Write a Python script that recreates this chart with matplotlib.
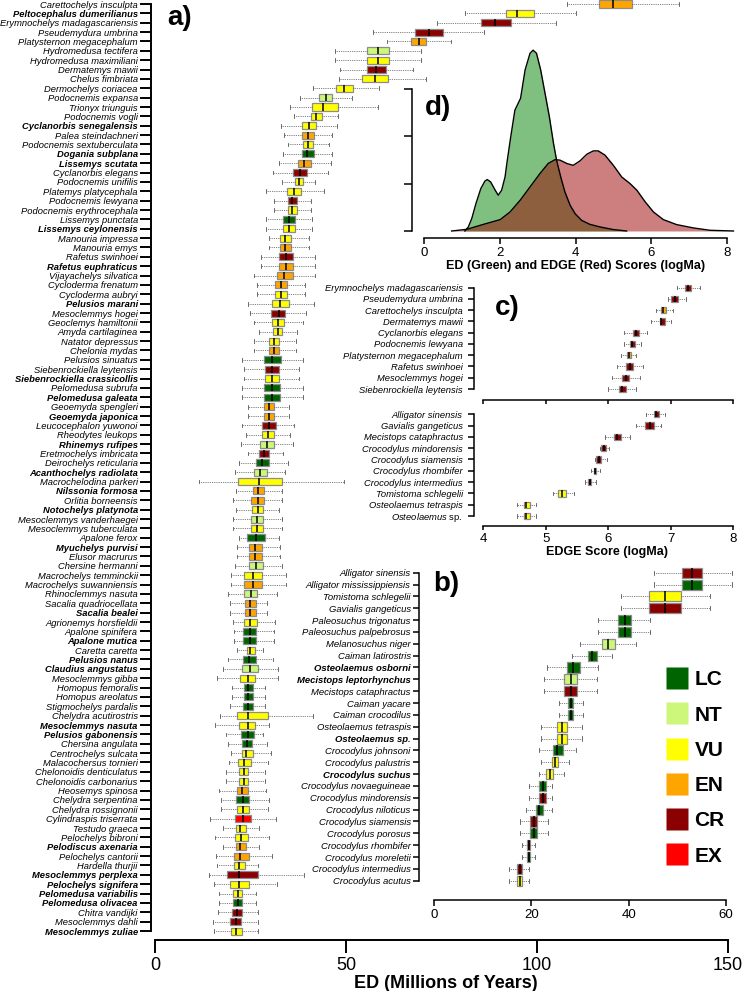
import numpy as np
import matplotlib.pyplot as plt
from matplotlib.lines import Line2D

plt.rcParams['font.family'] = ['Liberation Sans', 'DejaVu Sans']
plt.rcParams['mathtext.fontset'] = 'custom'
plt.rcParams['mathtext.it'] = 'Liberation Sans:italic'
plt.rcParams['mathtext.rm'] = 'Liberation Sans'
plt.rcParams['mathtext.bf'] = 'Liberation Sans:bold'

W, H = 742, 991

iucn_col = {'LC': '#006400', 'NT': '#CCF77A', 'VU': '#FFFF00',
            'EN': '#FFA500', 'CR': '#8B0000', 'EX': '#FF0000'}
legend_cats = ['LC', 'NT', 'VU', 'EN', 'CR', 'EX']

# ---------------- panel a: top 100 turtles, ED (Ma) ----------------
names_a = [
    "Carettochelys insculpta", "Peltocephalus dumerilianus", "Erymnochelys madagascariensis",
    "Pseudemydura umbrina", "Platysternon megacephalum", "Hydromedusa tectifera",
    "Hydromedusa maximiliani", "Dermatemys mawii", "Chelus fimbriata", "Dermochelys coriacea",
    "Podocnemis expansa", "Trionyx triunguis", "Podocnemis vogli", "Cyclanorbis senegalensis",
    "Palea steindachneri", "Podocnemis sextuberculata", "Dogania subplana", "Lissemys scutata",
    "Cyclanorbis elegans", "Podocnemis unifilis", "Platemys platycephala", "Podocnemis lewyana",
    "Podocnemis erythrocephala", "Lissemys punctata", "Lissemys ceylonensis", "Manouria impressa",
    "Manouria emys", "Rafetus swinhoei", "Rafetus euphraticus", "Vijayachelys silvatica",
    "Cycloderma frenatum", "Cycloderma aubryi", "Pelusios marani", "Mesoclemmys hogei",
    "Geoclemys hamiltonii", "Amyda cartilaginea", "Natator depressus", "Chelonia mydas",
    "Pelusios sinuatus", "Siebenrockiella leytensis", "Siebenrockiella crassicollis",
    "Pelomedusa subrufa", "Pelomedusa galeata", "Geoemyda spengleri", "Geoemyda japonica",
    "Leucocephalon yuwonoi", "Rheodytes leukops", "Rhinemys rufipes", "Eretmochelys imbricata",
    "Deirochelys reticularia", "Acanthochelys radiolata", "Macrochelodina parkeri",
    "Nilssonia formosa", "Orlitia borneensis", "Notochelys platynota", "Mesoclemmys vanderhaegei",
    "Mesoclemmys tuberculata", "Apalone ferox", "Myuchelys purvisi", "Elusor macrurus",
    "Chersine hermanni", "Macrochelys temminckii", "Macrochelys suwanniensis",
    "Rhinoclemmys nasuta", "Sacalia quadriocellata", "Sacalia bealei", "Agrionemys horsfieldii",
    "Apalone spinifera", "Apalone mutica", "Caretta caretta", "Pelusios nanus",
    "Claudius angustatus", "Mesoclemmys gibba", "Homopus femoralis", "Homopus areolatus",
    "Stigmochelys pardalis", "Chelydra acutirostris", "Mesoclemmys nasuta", "Pelusios gabonensis",
    "Chersina angulata", "Centrochelys sulcata", "Malacochersus tornieri",
    "Chelonoidis denticulatus", "Chelonoidis carbonarius", "Heosemys spinosa",
    "Chelydra serpentina", "Chelydra rossignonii", "Cylindraspis triserrata", "Testudo graeca",
    "Pelochelys bibroni", "Pelodiscus axenaria", "Pelochelys cantorii", "Hardella thurjii",
    "Mesoclemmys perplexa", "Pelochelys signifera", "Pelomedusa variabilis", "Pelomedusa olivacea",
    "Chitra vandijki", "Mesoclemmys dahli", "Mesoclemmys zuliae"]

status_a = [
    'EN', 'VU', 'CR', 'CR', 'EN', 'NT', 'VU', 'CR', 'VU', 'VU',
    'NT', 'VU', 'VU', 'VU', 'EN', 'VU', 'LC', 'EN', 'CR', 'VU',
    'VU', 'CR', 'VU', 'LC', 'VU', 'VU', 'EN', 'CR', 'EN', 'EN',
    'EN', 'VU', 'VU', 'CR', 'VU', 'VU', 'VU', 'EN', 'LC', 'CR',
    'VU', 'LC', 'LC', 'EN', 'EN', 'CR', 'VU', 'NT', 'CR', 'LC',
    'NT', 'VU', 'EN', 'EN', 'VU', 'NT', 'VU', 'LC', 'EN', 'EN',
    'NT', 'VU', 'EN', 'NT', 'EN', 'EN', 'VU', 'LC', 'LC', 'VU',
    'LC', 'NT', 'VU', 'LC', 'LC', 'LC', 'VU', 'VU', 'LC', 'LC',
    'VU', 'VU', 'VU', 'VU', 'EN', 'LC', 'VU', 'EX', 'VU', 'VU',
    'EN', 'EN', 'VU', 'CR', 'VU', 'VU', 'LC', 'CR', 'CR', 'VU']

lo_a = [107.9, 81.2, 73.8, 57.1, 60.7, 47.1, 47.1, 48.4, 48.2, 41.4,
        38.0, 35.3, 36.4, 33.0, 33.8, 34.8, 33.5, 32.5, 30.9, 33.2,
        29.1, 31.2, 31.2, 29.1, 29.1, 29.8, 29.8, 27.7, 27.7, 25.9,
        26.7, 26.7, 24.3, 24.9, 25.9, 27.2, 25.9, 25.9, 22.8, 23.3,
        23.3, 22.8, 22.8, 24.3, 24.3, 22.8, 23.8, 22.5, 24.3, 22.0,
        20.9, 11.5, 21.2, 20.4, 21.2, 20.4, 20.4, 22.0, 21.5, 21.5,
        20.9, 19.9, 19.9, 19.1, 19.6, 19.6, 20.4, 20.7, 20.7, 21.5,
        19.1, 17.8, 16.2, 20.2, 20.2, 19.6, 17.0, 15.7, 18.6, 19.1,
        19.9, 19.4, 18.6, 18.6, 16.8, 17.3, 17.3, 14.4, 17.8, 15.7,
        17.8, 16.0, 16.2, 14.1, 15.4, 16.8, 16.8, 16.5, 15.2, 15.4]
q1_a = [116.2, 91.9, 85.3, 68.1, 67.0, 55.5, 55.5, 55.5, 54.2, 47.4,
        42.9, 41.1, 40.8, 38.5, 38.5, 38.7, 38.5, 37.4, 36.1, 36.6,
        34.6, 34.8, 34.8, 33.5, 33.5, 32.7, 32.7, 32.5, 32.5, 31.9,
        31.4, 31.4, 30.6, 30.4, 30.6, 30.9, 29.8, 29.8, 28.5, 28.8,
        28.8, 28.5, 28.5, 28.5, 28.5, 28.0, 28.0, 27.5, 27.2, 26.4,
        25.9, 21.7, 25.7, 25.1, 25.4, 25.1, 25.1, 24.1, 24.6, 24.6,
        24.6, 23.3, 23.3, 23.3, 23.6, 23.6, 23.3, 23.0, 23.0, 24.1,
        23.0, 22.8, 22.3, 23.3, 23.3, 23.0, 21.5, 22.0, 22.5, 22.8,
        22.8, 21.7, 22.0, 22.0, 21.5, 21.2, 21.5, 20.9, 21.2, 20.9,
        21.2, 20.7, 20.7, 18.8, 19.6, 20.4, 20.4, 20.2, 19.6, 19.9]
med_a = [119.9, 94.8, 89.0, 71.7, 69.1, 58.4, 58.4, 57.9, 57.6, 49.5,
         44.8, 44.0, 42.1, 40.3, 40.1, 40.1, 39.8, 39.0, 38.0, 37.7,
         36.4, 35.9, 35.9, 35.1, 35.1, 34.0, 34.0, 34.3, 34.3, 33.8,
         33.0, 33.0, 32.7, 32.5, 32.2, 32.2, 31.2, 31.2, 30.6, 30.6,
         30.6, 30.6, 30.6, 29.8, 29.8, 29.8, 29.6, 29.3, 28.5, 28.0,
         27.5, 27.2, 27.0, 27.0, 27.0, 26.7, 26.7, 26.4, 26.2, 26.2,
         26.4, 25.7, 25.7, 25.1, 24.9, 24.9, 24.9, 24.9, 24.9, 24.9,
         24.6, 24.9, 24.3, 24.3, 24.3, 24.3, 24.3, 24.3, 24.3, 24.1,
         23.8, 23.3, 23.3, 23.3, 22.8, 23.0, 23.0, 23.0, 22.3, 22.5,
         22.3, 22.3, 22.0, 22.0, 22.0, 21.7, 21.7, 21.5, 21.2, 21.2]
q3_a = [124.9, 99.2, 93.2, 75.4, 70.9, 61.3, 61.3, 60.5, 61.0, 51.8,
        46.3, 47.9, 43.7, 42.1, 41.6, 41.4, 41.6, 40.8, 39.8, 38.7,
        38.2, 37.2, 37.2, 36.6, 36.6, 35.6, 35.6, 36.1, 36.1, 36.1,
        34.6, 34.6, 35.1, 34.0, 33.8, 33.2, 32.5, 32.5, 33.0, 32.5,
        32.5, 32.7, 32.7, 31.2, 31.2, 31.7, 31.2, 31.2, 29.8, 29.8,
        29.3, 33.2, 28.5, 28.5, 28.3, 28.3, 28.3, 28.8, 28.0, 28.0,
        28.3, 28.0, 28.0, 26.7, 26.4, 26.4, 26.7, 26.4, 26.4, 26.2,
        26.4, 27.0, 26.2, 25.7, 25.7, 25.7, 29.6, 26.2, 25.9, 25.4,
        25.7, 25.1, 24.3, 24.3, 24.3, 24.6, 24.6, 25.1, 23.8, 24.3,
        23.8, 24.6, 23.6, 27.0, 24.6, 22.8, 22.8, 22.8, 22.5, 22.8]
hi_a = [137.2, 110.2, 105.0, 86.1, 77.5, 69.6, 69.6, 67.5, 70.9, 58.6,
        51.6, 58.4, 47.9, 47.6, 46.3, 45.5, 46.3, 46.1, 45.3, 41.9,
        44.2, 40.8, 40.8, 41.1, 41.1, 40.3, 40.3, 41.9, 41.9, 41.9,
        39.3, 39.3, 41.6, 39.5, 38.7, 37.2, 36.9, 36.9, 38.7, 37.7,
        37.7, 38.7, 38.7, 35.1, 35.1, 36.4, 35.3, 36.1, 33.5, 34.8,
        34.0, 49.5, 33.2, 33.2, 32.5, 33.2, 33.2, 32.5, 32.7, 32.7,
        33.2, 34.3, 34.3, 31.9, 29.3, 29.3, 31.4, 31.2, 31.2, 28.3,
        30.9, 32.2, 32.2, 28.8, 28.8, 28.8, 41.4, 29.8, 28.3, 29.3,
        30.4, 29.6, 28.8, 28.8, 29.1, 29.8, 29.6, 31.7, 27.2, 29.8,
        27.2, 30.6, 27.0, 39.0, 31.9, 26.4, 26.4, 27.0, 27.0, 27.0]

bold_a = {"Peltocephalus dumerilianus", "Cyclanorbis senegalensis", "Dogania subplana",
          "Lissemys scutata", "Lissemys ceylonensis", "Rafetus euphraticus", "Pelusios marani",
          "Siebenrockiella crassicollis", "Pelomedusa galeata", "Geoemyda japonica",
          "Rhinemys rufipes", "Acanthochelys radiolata", "Nilssonia formosa",
          "Notochelys platynota", "Myuchelys purvisi", "Sacalia bealei", "Apalone mutica",
          "Pelusios nanus", "Claudius angustatus", "Mesoclemmys nasuta", "Pelusios gabonensis",
          "Pelodiscus axenaria", "Mesoclemmys perplexa", "Pelochelys signifera",
          "Pelomedusa variabilis", "Pelomedusa olivacea", "Mesoclemmys zuliae"}

# ---------------- panel b: crocodylians, ED (Ma) ----------------
names_b = ["Alligator sinensis", "Alligator mississippiensis", "Tomistoma schlegelii",
           "Gavialis gangeticus", "Paleosuchus trigonatus", "Paleosuchus palpebrosus",
           "Melanosuchus niger", "Caiman latirostris", "Osteolaemus osborni",
           "Mecistops leptorhynchus", "Mecistops cataphractus", "Caiman yacare",
           "Caiman crocodilus", "Osteolaemus tetraspis", "Osteolaemus sp.",
           "Crocodylus johnsoni", "Crocodylus palustris", "Crocodylus suchus",
           "Crocodylus novaeguineae", "Crocodylus mindorensis", "Crocodylus niloticus",
           "Crocodylus siamensis", "Crocodylus porosus", "Crocodylus rhombifer",
           "Crocodylus moreletii", "Crocodylus intermedius", "Crocodylus acutus"]
status_b = ['CR', 'LC', 'VU', 'CR', 'LC', 'LC', 'NT', 'LC', 'LC', 'NT', 'CR', 'LC', 'LC',
            'VU', 'VU', 'LC', 'VU', 'VU', 'LC', 'CR', 'LC', 'CR', 'LC', 'CR', 'LC', 'CR', 'VU']
lo_b = [45.2, 45.2, 38.4, 38.4, 33.7, 33.7, 30.1, 28.3, 23.3, 22.5, 22.5, 25.6, 25.6,
        22.0, 22.0, 21.6, 22.0, 21.5, 19.4, 19.4, 18.9, 17.7, 17.7, 18.1, 18.1, 15.4, 15.4]
q1_b = [51.1, 51.1, 44.3, 44.3, 37.9, 37.9, 34.5, 31.6, 27.3, 26.7, 26.7, 27.5, 27.5,
        25.2, 25.2, 24.4, 24.2, 23.1, 21.6, 21.6, 20.9, 19.8, 19.8, 19.0, 19.0, 17.1, 17.1]
med_b = [53.1, 53.1, 47.4, 47.4, 39.3, 39.3, 35.8, 32.5, 28.5, 28.1, 28.1, 28.1, 28.1,
         26.3, 26.3, 25.3, 24.8, 23.8, 22.3, 22.3, 21.6, 20.5, 20.5, 19.4, 19.4, 17.6, 17.6]
q3_b = [55.2, 55.2, 50.8, 50.8, 40.6, 40.6, 37.2, 33.5, 29.9, 29.4, 29.4, 28.6, 28.6,
        27.3, 27.3, 26.5, 25.5, 24.5, 22.9, 22.9, 22.3, 21.2, 21.2, 19.7, 19.7, 18.1, 18.1]
hi_b = [61.2, 61.2, 56.8, 56.8, 44.5, 44.5, 41.6, 36.6, 33.8, 33.6, 33.6, 30.6, 30.6,
        30.5, 30.5, 29.2, 27.8, 26.7, 24.3, 24.3, 24.3, 23.5, 23.5, 20.7, 20.7, 19.4, 19.4]
bold_b = {"Osteolaemus osborni", "Mecistops leptorhynchus", "Osteolaemus sp.", "Crocodylus suchus"}

# ---------------- panel c: EDGE scores (logMa) ----------------
names_c1 = ["Erymnochelys madagascariensis", "Pseudemydura umbrina", "Carettochelys insculpta",
            "Dermatemys mawii", "Cyclanorbis elegans", "Podocnemis lewyana",
            "Platysternon megacephalum", "Rafetus swinhoei", "Mesoclemmys hogei",
            "Siebenrockiella leytensis"]
status_c1 = ['CR', 'CR', 'EN', 'CR', 'CR', 'CR', 'EN', 'CR', 'CR', 'CR']
lo_c1 = [7.10, 6.95, 6.77, 6.68, 6.25, 6.25, 6.21, 6.14, 6.06, 6.00]
q1_c1 = [7.23, 7.01, 6.84, 6.82, 6.39, 6.35, 6.30, 6.28, 6.22, 6.17]
med_c1 = [7.27, 7.06, 6.88, 6.85, 6.44, 6.38, 6.33, 6.34, 6.28, 6.22]
q3_c1 = [7.32, 7.11, 6.92, 6.90, 6.49, 6.42, 6.36, 6.39, 6.33, 6.28]
hi_c1 = [7.47, 7.25, 7.03, 7.00, 6.62, 6.52, 6.45, 6.56, 6.50, 6.45]

names_c2 = ["Alligator sinensis", "Gavialis gangeticus", "Mecistops cataphractus",
            "Crocodylus mindorensis", "Crocodylus siamensis", "Crocodylus rhombifer",
            "Crocodylus intermedius", "Tomistoma schlegelii", "Osteolaemus tetraspis",
            r"$\mathit{Osteolaemus}$ sp."]
status_c2 = ['CR', 'CR', 'CR', 'CR', 'CR', 'CR', 'CR', 'VU', 'VU', 'VU']
lo_c2 = [6.61, 6.44, 5.95, 5.86, 5.78, 5.73, 5.63, 5.12, 4.54, 4.54]
q1_c2 = [6.73, 6.59, 6.09, 5.89, 5.81, 5.77, 5.67, 5.20, 4.65, 4.65]
med_c2 = [6.77, 6.66, 6.14, 5.93, 5.85, 5.79, 5.70, 5.26, 4.69, 4.69]
q3_c2 = [6.81, 6.73, 6.20, 5.96, 5.89, 5.81, 5.73, 5.33, 4.74, 4.74]
hi_c2 = [6.91, 6.84, 6.34, 6.01, 5.98, 5.86, 5.80, 5.45, 4.85, 4.85]

# ---------------- panel d: density curves ----------------
ed_x = [1.08, 1.17, 1.26, 1.37, 1.50, 1.61, 1.67, 1.76, 1.88, 1.96, 2.05, 2.14, 2.20,
        2.29, 2.40, 2.55, 2.67, 2.80, 2.88, 2.97, 3.08, 3.22, 3.31, 3.42, 3.50, 3.61,
        3.72, 3.86, 3.99, 4.16, 4.38, 4.65, 5.00, 5.35]
ed_d = [0.0, 0.017, 0.052, 0.115, 0.179, 0.211, 0.217, 0.207, 0.172, 0.151, 0.172, 0.228,
        0.299, 0.397, 0.510, 0.560, 0.680, 0.750, 0.763, 0.750, 0.680, 0.560, 0.482, 0.369,
        0.299, 0.228, 0.165, 0.108, 0.073, 0.045, 0.028, 0.017, 0.006, 0.0]
edge_x = [0.73, 1.13, 1.57, 2.01, 2.27, 2.54, 2.80, 3.06, 3.28, 3.46, 3.59, 3.77, 3.94,
          4.12, 4.30, 4.47, 4.60, 4.78, 5.00, 5.22, 5.44, 5.62, 5.84, 6.06, 6.32, 6.67,
          7.11, 7.55, 8.17]
edge_d = [0.0, 0.007, 0.028, 0.048, 0.080, 0.130, 0.186, 0.242, 0.285, 0.301, 0.299,
          0.285, 0.277, 0.296, 0.324, 0.338, 0.338, 0.320, 0.277, 0.228, 0.200, 0.172,
          0.123, 0.080, 0.048, 0.027, 0.013, 0.003, 0.0]


def px_axes(fig, x0, y0, x1, y1):
    return fig.add_axes([x0 / W, 1 - y1 / H, (x1 - x0) / W, (y1 - y0) / H], facecolor='none')


def draw_boxes(ax, lo, q1, med, q3, hi, status, width, capw, lw=0.9):
    stats = [dict(whislo=a, q1=b, med=c, q3=d, whishi=e, fliers=[])
             for a, b, c, d, e in zip(lo, q1, med, q3, hi)]
    pos = np.arange(len(stats))
    art = ax.bxp(stats, positions=pos, widths=width, orientation='horizontal',
                 patch_artist=True, showfliers=False, capwidths=capw,
                 boxprops=dict(edgecolor='#8c8c8c', linewidth=lw),
                 medianprops=dict(color='black', linewidth=lw + 0.2),
                 whiskerprops=dict(color='#555555', linestyle=(0, (1, 1.2)), linewidth=0.6),
                 capprops=dict(color='#555555', linewidth=0.6))
    for patch, s in zip(art['boxes'], status):
        patch.set_facecolor(iucn_col[s])
    return pos


def style_axis(ax, pos, names, bold, fs, xb, spw, tlen):
    ax.set_yticks(pos)
    ax.set_yticklabels(names, fontstyle='italic', fontsize=fs)
    for lbl in ax.get_yticklabels():
        if lbl.get_text() in bold:
            lbl.set_fontweight('bold')
    for s in ['top', 'right']:
        ax.spines[s].set_visible(False)
    ax.spines['left'].set_bounds(pos[0], pos[-1])
    ax.spines['bottom'].set_bounds(xb[0], xb[1])
    for s in ['left', 'bottom']:
        ax.spines[s].set_linewidth(spw)
    ax.tick_params(axis='y', length=tlen, width=spw, pad=1.5)
    ax.tick_params(axis='x', width=spw)


fig = plt.figure(figsize=(W / 100, H / 100), dpi=100)

# panel a
ax_a = px_axes(fig, 151, 0, 740, 940)
pos = draw_boxes(ax_a, lo_a, q1_a, med_a, q3_a, hi_a, status_a, 0.75, 0.4)
ax_a.set_xlim((151 - 155) / 3.82, (740 - 155) / 3.82)
ax_a.set_ylim((940 - 4) / 9.364, -4 / 9.364)
style_axis(ax_a, pos, names_a, bold_a, 6.75, (0, 150), 1.4, 8)
ax_a.set_xticks([0, 50, 100, 150])
ax_a.tick_params(axis='x', length=9, labelsize=13, pad=3)
ax_a.set_xlabel('ED (Millions of Years)', fontsize=13, fontweight='bold', labelpad=1)

# panel b
ax_b = px_axes(fig, 419, 560, 740, 900)
pos = draw_boxes(ax_b, lo_b, q1_b, med_b, q3_b, hi_b, status_b, 0.85, 0.35)
ax_b.set_xlim((419 - 434.3) / 4.857, (740 - 434.3) / 4.857)
ax_b.set_ylim((900 - 572.7) / 11.846, (560 - 572.7) / 11.846)
style_axis(ax_b, pos, names_b, bold_b, 6.8, (0, 60), 1.1, 4.5)
ax_b.set_xticks([0, 20, 40, 60])
ax_b.tick_params(axis='x', length=4.5, labelsize=9.5, pad=2)

# panel c (top: turtles, bottom: crocodylians)
ax_c1 = px_axes(fig, 474, 278, 740, 400)
pos = draw_boxes(ax_c1, lo_c1, q1_c1, med_c1, q3_c1, hi_c1, status_c1, 0.55, 0.3)
ax_c1.set_xlim(4 + (474 - 483.3) / 62.5, 4 + (740 - 483.3) / 62.5)
ax_c1.set_ylim((400 - 287.7) / 11.256, (278 - 287.7) / 11.256)
style_axis(ax_c1, pos, names_c1, set(), 6.75, (4, 8), 1.1, 4.5)
ax_c1.set_xticks([4, 5, 6, 7, 8])
ax_c1.tick_params(axis='x', length=3, labelbottom=False)
ax_c1.tick_params(axis='y', pad=3.5)

ax_c2 = px_axes(fig, 474, 404, 740, 525.7)
pos = draw_boxes(ax_c2, lo_c2, q1_c2, med_c2, q3_c2, hi_c2, status_c2, 0.55, 0.3)
ax_c2.set_xlim(4 + (474 - 483.3) / 62.5, 4 + (740 - 483.3) / 62.5)
ax_c2.set_ylim((525.7 - 414.3) / 11.3, (404 - 414.3) / 11.3)
style_axis(ax_c2, pos, names_c2, set(), 6.75, (4, 8), 1.1, 4.5)
ax_c2.get_yticklabels()[-1].set_fontstyle('normal')
ax_c2.set_xticks([4, 5, 6, 7, 8])
ax_c2.tick_params(axis='x', length=3, labelsize=9.5, pad=2)
ax_c2.tick_params(axis='y', pad=3.5)
ax_c2.set_xlabel('EDGE Score (logMa)', fontsize=9, fontweight='bold', labelpad=1)

# panel d
ax_d = px_axes(fig, 412, 40, 740, 238)
ax_d.fill_between(ed_x, ed_d, color=(0, 0.5, 0, 0.5), linewidth=0)
ax_d.plot(ed_x, ed_d, color='black', linewidth=1.0)
ax_d.fill_between(edge_x, edge_d, color=(0.61, 0, 0, 0.5), linewidth=0)
ax_d.plot(edge_x, edge_d, color='black', linewidth=1.0)
ax_d.set_xlim((412 - 424) / 37.875, (740 - 424) / 37.875)
ax_d.set_ylim(-7 / 237, (231 - 40) / 237)
for s in ['top', 'right']:
    ax_d.spines[s].set_visible(False)
ax_d.spines['left'].set_bounds(0, 0.6)
ax_d.spines['bottom'].set_bounds(0, 8)
for s in ['left', 'bottom']:
    ax_d.spines[s].set_linewidth(1.1)
ax_d.set_yticks([0, 0.2, 0.4, 0.6])
ax_d.set_yticklabels([])
ax_d.set_xticks([0, 2, 4, 6, 8])
ax_d.tick_params(axis='y', length=5.5, width=1.1)
ax_d.tick_params(axis='x', length=4.5, width=1.1, labelsize=9.5, pad=2)
ax_d.set_xlabel('ED (Green) and EDGE (Red) Scores (logMa)', fontsize=9,
                fontweight='bold', labelpad=1)

# legend
handles = [Line2D([], [], marker='s', linestyle='none', markersize=16,
                  markerfacecolor=iucn_col[k], markeredgecolor='none') for k in legend_cats]
fig.legend(handles, legend_cats, loc='center left', bbox_to_anchor=(656 / W, 1 - 768 / H),
           frameon=False, prop=dict(weight='bold', size=15), handletextpad=0.3,
           labelspacing=0.78, borderpad=0, handlelength=1.05)

# panel letters
for lab, x, y in [('a)', 167, 18), ('b)', 433, 584), ('c)', 495, 308), ('d)', 425, 108)]:
    fig.text(x / W, 1 - y / H, lab, fontsize=20, fontweight='bold', ha='left', va='center')

fig.savefig('out.png', dpi=100)
